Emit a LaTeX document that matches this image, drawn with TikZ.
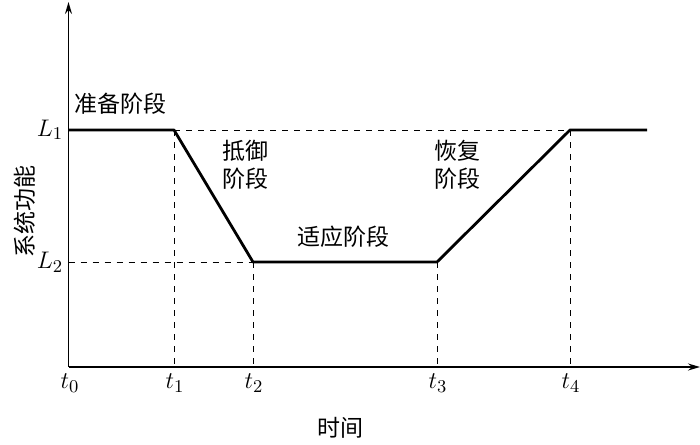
\documentclass[tikz,border=0pt]{standalone}
\usepackage{fontspec}
\usetikzlibrary{arrows.meta}
\newfontfamily\cjk{Noto Sans CJK SC}
\begin{document}
\begin{tikzpicture}[x=0.5pt, y=-0.5pt, font=\fontsize{13}{15}\selectfont, line join=round, >={Stealth[length=6pt,width=3.5pt,inset=2pt]},
	thickline/.style={line width=1.4pt},
	axisline/.style={line width=0.8pt},
	guide/.style={dashed, line width=0.45pt},
	stage/.style={font=\cjk\fontsize{11.5}{14}\selectfont, align=center, inner sep=0pt}]
	\useasboundingbox (0,0) rectangle (700,444);
	% các mốc thời gian và mức
	\coordinate (O) at (68.5,367);
	\coordinate (ytop) at (68.5,2);
	\coordinate (xend) at (700,367);
	\coordinate (A) at (68.5,130);
	\coordinate (B) at (174,130);
	\coordinate (C) at (253,262);
	\coordinate (D) at (437,262);
	\coordinate (E) at (570,130);
	\coordinate (F) at (647,130);
	\coordinate (Ltwo) at (68.5,262);
	\coordinate (Tone) at (174,367);
	\coordinate (Ttwo) at (253,367);
	\coordinate (Tthree) at (437,367);
	\coordinate (Tfour) at (570,367);
	\draw[guide] (B)--(E);
	\draw[guide] (Ltwo)--(C);
	\draw[guide] (B)--(Tone) (C)--(Ttwo) (D)--(Tthree) (E)--(Tfour);
	\draw[axisline,->] (O)--(ytop);
	\draw[axisline,->] (O)--(xend);
	\draw[thickline] (A)--(B)--(C)--(D)--(E)--(F);
	\path
	(50,130) node (lone) {$L_1$}
	(50,262) node (ltwo) {$L_2$}
	(70,383) node (tzero) {$t_0$}
	(175,383) node (tone) {$t_1$}
	(254,383) node (ttwo) {$t_2$}
	(438,383) node (tthree) {$t_3$}
	(571,383) node (tfour) {$t_4$}
	(120,104) node[stage] (prep) {准备阶段}
	(245,165) node[stage] (resist) {抵御\\阶段}
	(457,165) node[stage] (recover) {恢复\\阶段}
	(343,237) node[stage] (adapt) {适应阶段}
	(25,211) node[stage, rotate=90] (func) {系统功能}
	(340,428) node[stage] (time) {时间}
	;
\end{tikzpicture}
\end{document}
